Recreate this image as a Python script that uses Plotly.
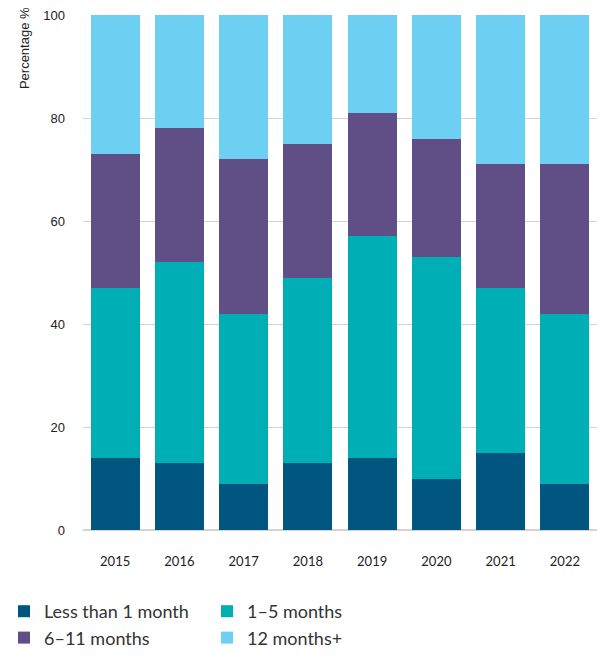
import plotly.graph_objects as go

years = ["2015", "2016", "2017", "2018", "2019", "2020", "2021", "2022"]
less_than_1 = [14, 13, 9, 13, 14, 10, 15, 9]
one_to_5 = [33, 39, 33, 36, 43, 43, 32, 33]
six_to_11 = [26, 26, 30, 26, 24, 23, 24, 29]
twelve_plus = [27, 22, 28, 25, 19, 24, 29, 29]

series = [
    ("Less than 1 month", less_than_1, "#005581"),
    ("1–5 months", one_to_5, "#00AEB6"),
    ("6–11 months", six_to_11, "#604E86"),
    ("12 months+", twelve_plus, "#6DCFF1"),
]

fig = go.Figure()
for name, vals, color in series:
    fig.add_trace(go.Bar(x=years, y=vals, name=name, marker=dict(color=color, line=dict(width=0))))

fig.update_layout(
    barmode="stack",
    bargap=0.24,
    width=601,
    height=658,
    margin=dict(l=83, r=4, t=15, b=128, autoexpand=False),
    plot_bgcolor="white",
    paper_bgcolor="white",
    showlegend=True,
    legend=dict(
        orientation="h",
        xref="container",
        yref="container",
        x=4 / 601,
        xanchor="left",
        y=1 - 593 / 658,
        yanchor="top",
        entrywidth=158,
        traceorder="normal",
        font=dict(family="Lato", size=18, color="#333333"),
        itemwidth=30,
        tracegroupgap=0,
    ),
    xaxis=dict(
        tickfont=dict(family="Lato", size=13, color="#222222"),
        showgrid=False,
        showline=False,
        ticks="",
        ticklabelstandoff=22,
    ),
    yaxis=dict(
        range=[0, 100],
        tickvals=[0, 20, 40, 60, 80, 100],
        tickfont=dict(family="Liberation Sans", size=13, color="#222222"),
        showgrid=True,
        gridcolor="#D3D3D3",
        gridwidth=1,
        zeroline=True,
        zerolinecolor="#D3D3D3",
        ticks="",
        ticklabelstandoff=17,
    ),
    annotations=[
        dict(
            text="Percentage %",
            xref="paper", yref="paper",
            x=-0.114, y=1.02,
            xanchor="center", yanchor="top",
            textangle=-90,
            showarrow=False,
            font=dict(family="Liberation Sans", size=13, color="#222222"),
        )
    ],
)

fig.write_html("out.html")
